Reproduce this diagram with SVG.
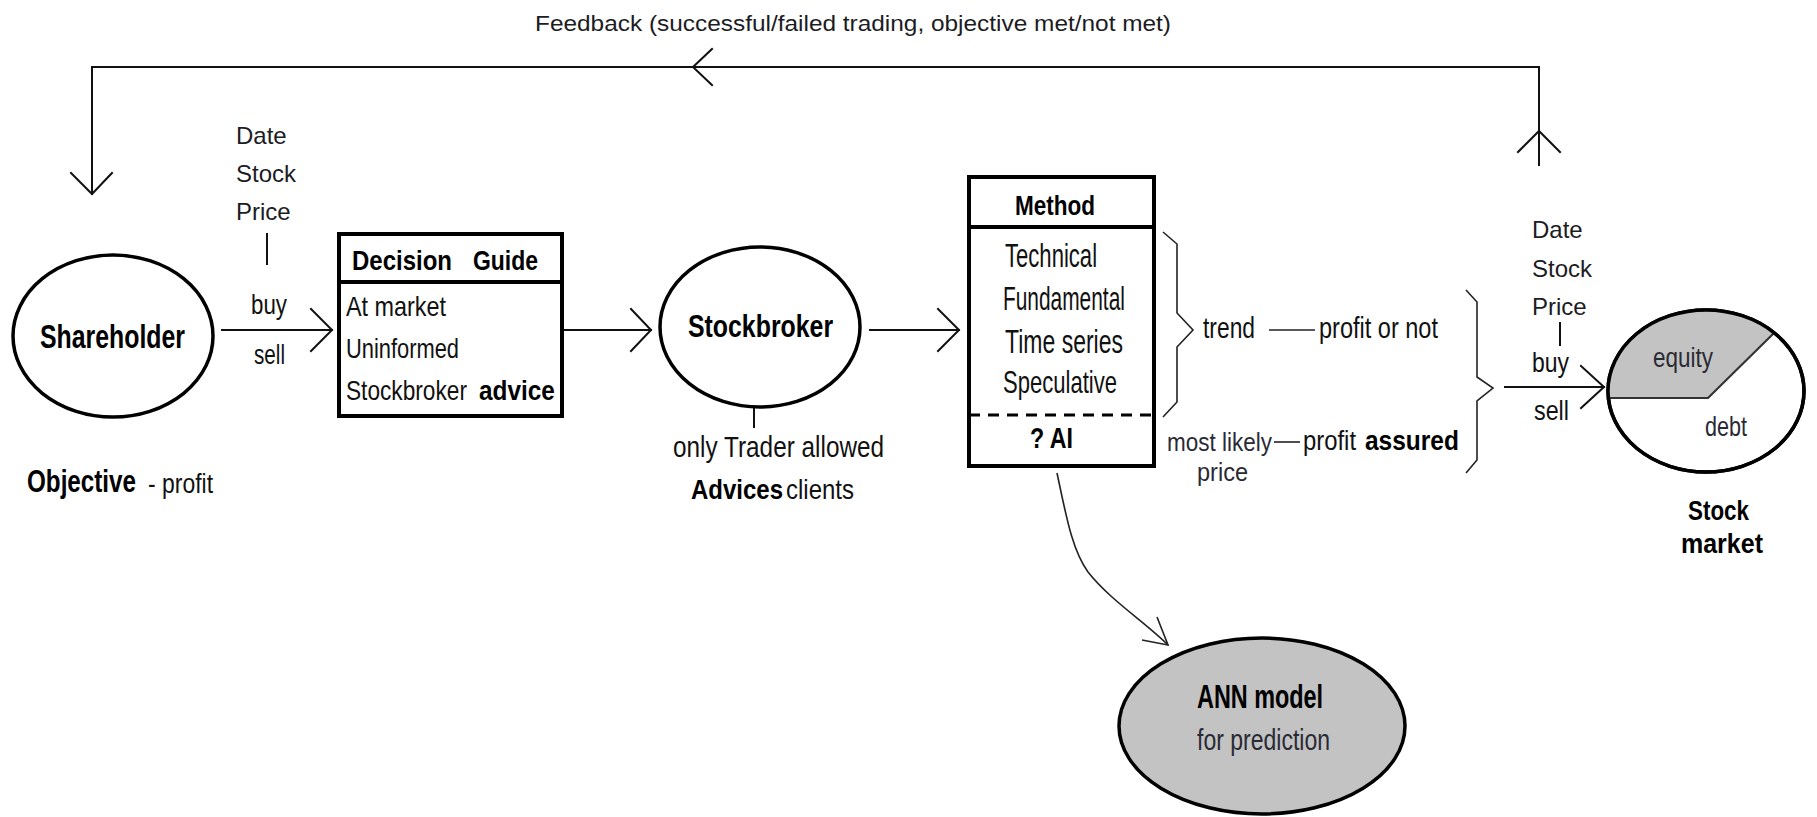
<svg xmlns="http://www.w3.org/2000/svg" width="1817" height="817" viewBox="0 0 1817 817">
  <style>
    .ln { fill: none; stroke: #111; stroke-width: 2; stroke-linecap: square; }
    .thin { fill: none; stroke: #222; stroke-width: 1.6; }
    .node { fill: #fff; stroke: #000; stroke-width: 3.5; }
    .grey { fill: #c3c3c3; stroke: #000; stroke-width: 3.5; }
    .box { fill: #fff; stroke: #000; stroke-width: 4; }
    .sep { stroke: #000; stroke-width: 4; }
    .dash { stroke: #000; stroke-width: 3; stroke-dasharray: 11 8; }
    .arial { font-family: "Liberation Sans", Arial, sans-serif; fill: #1c1c24; }
    .nr { font-family: "Liberation Sans", Arial, sans-serif; fill: #111; }
    .nb { font-family: "Liberation Sans", Arial, sans-serif; font-weight: bold; fill: #000; }
    .soft { fill: #2a2a35; }
  </style>

  <!-- connectors -->
  <g id="connectors">
    <!-- feedback loop from the stock market back to the shareholder -->
    <polyline class="ln" points="1539,165 1539,67 92,67 92,194"/>
    <polyline class="ln" points="712,49 693,67 712,85"/>
    <polyline class="ln" points="71,173 92,194 112,173"/>
    <polyline class="ln" points="1518,152 1539,131 1560,152"/>

    <!-- shareholder -> decision guide -->
    <line class="ln" x1="222" y1="330" x2="332" y2="330"/>
    <polyline class="ln" points="311,309 332,330 311,351"/>
    <line class="ln" x1="267" y1="234" x2="267" y2="264"/>

    <!-- decision guide -> stockbroker -->
    <line class="ln" x1="565" y1="330" x2="651" y2="330"/>
    <polyline class="ln" points="631,309 651,330 631,351"/>
    <line class="ln" x1="754" y1="407" x2="754" y2="427"/>

    <!-- stockbroker -> method -->
    <line class="ln" x1="870" y1="330" x2="959" y2="330"/>
    <polyline class="ln" points="938,309 959,330 938,351"/>

    <!-- method braces -->
    <polyline class="thin" points="1163,232 1177,244 1177,313 1193,330 1177,347 1177,402 1163,417"/>
    <line class="thin" x1="1269" y1="330" x2="1315" y2="330"/>
    <line class="thin" x1="1274" y1="442" x2="1300" y2="442"/>
    <polyline class="thin" points="1466,290 1477,302 1477,377 1493,388 1477,401 1477,460 1466,473"/>

    <!-- trades -> stock market -->
    <line class="ln" x1="1505" y1="387" x2="1604" y2="387"/>
    <polyline class="ln" points="1581,366 1604,387 1581,408"/>
    <line class="ln" x1="1560" y1="323" x2="1560" y2="345"/>

    <!-- method -> ANN model -->
    <path class="thin" d="M1057,473 C1066,515 1072,550 1088,572 C1110,600 1145,622 1168,645"/>
    <polyline class="thin" points="1157,617 1168,645 1142,640"/>
  </g>

  <!-- feedback label -->
  <g id="feedback-label">
    <text class="arial" x="535" y="31" font-size="22" textLength="636" lengthAdjust="spacingAndGlyphs">Feedback (successful/failed trading, objective met/not met)</text>
  </g>

  <!-- shareholder -->
  <g id="shareholder">
    <ellipse class="node" cx="113" cy="336" rx="100" ry="81"/>
    <text class="nb" transform="translate(40,348) scale(0.753,1)" font-size="33" textLength="192.6" lengthAdjust="spacingAndGlyphs">Shareholder</text>
    <text class="nb" transform="translate(27,492) scale(0.781,1)" font-size="31" textLength="139.6" lengthAdjust="spacingAndGlyphs">Objective</text>
    <text class="nr" transform="translate(148,493) scale(0.819,1)" font-size="28" textLength="79.4" lengthAdjust="spacingAndGlyphs">- profit</text>
  </g>

  <!-- order details (left) -->
  <g id="order-left">
    <text class="arial" x="236" y="144" font-size="24">Date</text>
    <text class="arial" x="236" y="182" font-size="24">Stock</text>
    <text class="arial" x="236" y="220" font-size="24">Price</text>
    <text class="nr" transform="translate(251,314) scale(0.798,1)" font-size="28" textLength="45.1" lengthAdjust="spacingAndGlyphs">buy</text>
    <text class="nr" transform="translate(254,364) scale(0.738,1)" font-size="28" textLength="42" lengthAdjust="spacingAndGlyphs">sell</text>
  </g>

  <!-- decision guide -->
  <g id="decision-guide">
    <rect class="box" x="339" y="234" width="223" height="182"/>
    <line class="sep" x1="339" y1="282" x2="562" y2="282"/>
    <text class="nb" transform="translate(352,270) scale(0.857,1)" font-size="28" textLength="116.7" lengthAdjust="spacingAndGlyphs">Decision</text>
    <text class="nb" transform="translate(473,270) scale(0.819,1)" font-size="28" textLength="79.4" lengthAdjust="spacingAndGlyphs">Guide</text>
    <text class="nr" transform="translate(346,316) scale(0.806,1)" font-size="28" textLength="124.1" lengthAdjust="spacingAndGlyphs">At market</text>
    <text class="nr" transform="translate(346,358) scale(0.754,1)" font-size="28" textLength="149.9" lengthAdjust="spacingAndGlyphs">Uninformed</text>
    <text class="nr" transform="translate(346,400) scale(0.782,1)" font-size="28" textLength="154.7" lengthAdjust="spacingAndGlyphs">Stockbroker</text>
    <text class="nb" transform="translate(479,400) scale(0.853,1)" font-size="28" textLength="88.8" lengthAdjust="spacingAndGlyphs">advice</text>
  </g>

  <!-- stockbroker -->
  <g id="stockbroker">
    <ellipse class="node" cx="760" cy="327" rx="100" ry="80"/>
    <text class="nb" transform="translate(688,337) scale(0.802,1)" font-size="31" textLength="180.9" lengthAdjust="spacingAndGlyphs">Stockbroker</text>
    <text class="nr" transform="translate(673,457) scale(0.855,1)" font-size="29" textLength="246.9" lengthAdjust="spacingAndGlyphs">only Trader allowed</text>
    <text class="nb" transform="translate(691,499) scale(0.889,1)" font-size="27" textLength="103.5" lengthAdjust="spacingAndGlyphs">Advices</text>
    <text class="nr" transform="translate(786,499) scale(0.889,1)" font-size="27" textLength="76.5" lengthAdjust="spacingAndGlyphs">clients</text>
  </g>

  <!-- method -->
  <g id="method">
    <rect class="box" x="969" y="177" width="185" height="289"/>
    <line class="sep" x1="969" y1="227" x2="1154" y2="227"/>
    <line class="dash" x1="969" y1="415" x2="1154" y2="415"/>
    <text class="nb" transform="translate(1015,215) scale(0.804,1)" font-size="28" textLength="99.5" lengthAdjust="spacingAndGlyphs">Method</text>
    <text class="nr" transform="translate(1005,267) scale(0.652,1)" font-size="33" textLength="141.2" lengthAdjust="spacingAndGlyphs">Technical</text>
    <text class="nr" transform="translate(1003,310) scale(0.633,1)" font-size="33" textLength="192.6" lengthAdjust="spacingAndGlyphs">Fundamental</text>
    <text class="nr" transform="translate(1005,353) scale(0.692,1)" font-size="33" textLength="170.5" lengthAdjust="spacingAndGlyphs">Time series</text>
    <text class="nr" transform="translate(1003,393) scale(0.668,1)" font-size="32" textLength="170.6" lengthAdjust="spacingAndGlyphs">Speculative</text>
    <text class="nb" transform="translate(1030,448) scale(0.734,1)" font-size="30" textLength="58.6" lengthAdjust="spacingAndGlyphs">? AI</text>
  </g>

  <!-- outcomes -->
  <g id="outcomes">
    <text class="nr" transform="translate(1203,338) scale(0.787,1)" font-size="29" textLength="66.1" lengthAdjust="spacingAndGlyphs">trend</text>
    <text class="nr" transform="translate(1319,338) scale(0.811,1)" font-size="29" textLength="146.7" lengthAdjust="spacingAndGlyphs">profit or not</text>
    <text class="nr soft" transform="translate(1167,451) scale(0.799,1)" font-size="26" textLength="131.4" lengthAdjust="spacingAndGlyphs">most likely</text>
    <text class="nr soft" transform="translate(1197,481) scale(0.872,1)" font-size="26" textLength="58.5" lengthAdjust="spacingAndGlyphs">price</text>
    <text class="nr" transform="translate(1303,450) scale(0.822,1)" font-size="28" textLength="64.5" lengthAdjust="spacingAndGlyphs">profit</text>
    <text class="nb" transform="translate(1365,450) scale(0.845,1)" font-size="28" textLength="111.2" lengthAdjust="spacingAndGlyphs">assured</text>
  </g>

  <!-- order details (right) -->
  <g id="order-right">
    <text class="arial" x="1532" y="238" font-size="24">Date</text>
    <text class="arial" x="1532" y="277" font-size="24">Stock</text>
    <text class="arial" x="1532" y="315" font-size="24">Price</text>
    <text class="nr" transform="translate(1532,372) scale(0.82,1)" font-size="28" textLength="45.1" lengthAdjust="spacingAndGlyphs">buy</text>
    <text class="nr" transform="translate(1534,420) scale(0.833,1)" font-size="28" textLength="42" lengthAdjust="spacingAndGlyphs">sell</text>
  </g>

  <!-- stock market -->
  <g id="stock-market">
    <ellipse class="node" cx="1706" cy="391" rx="98" ry="81"/>
    <path d="M1609,398 L1708,398 L1774,333 A98,81 0 0 0 1609,398 Z" fill="#c3c3c3" stroke="none"/>
    <polyline points="1609,398 1708,398 1774,333" fill="none" stroke="#333" stroke-width="2.2"/>
    <ellipse cx="1706" cy="391" rx="98" ry="81" fill="none" stroke="#000" stroke-width="3.5"/>
    <text class="nr soft" transform="translate(1653,367) scale(0.803,1)" font-size="28" textLength="74.7" lengthAdjust="spacingAndGlyphs">equity</text>
    <text class="nr soft" transform="translate(1705,436) scale(0.771,1)" font-size="28" textLength="54.5" lengthAdjust="spacingAndGlyphs">debt</text>
    <text class="nb" transform="translate(1688,520) scale(0.8,1)" font-size="28" textLength="76.2" lengthAdjust="spacingAndGlyphs">Stock</text>
    <text class="nb" transform="translate(1681,553) scale(0.893,1)" font-size="28" textLength="91.8" lengthAdjust="spacingAndGlyphs">market</text>
  </g>

  <!-- ANN model -->
  <g id="ann-model">
    <ellipse class="grey" cx="1262" cy="726" rx="143" ry="88"/>
    <text class="nb" transform="translate(1197,708) scale(0.709,1)" font-size="33" textLength="177.8" lengthAdjust="spacingAndGlyphs">ANN model</text>
    <text class="nr soft" transform="translate(1197,750) scale(0.767,1)" font-size="30" textLength="173.4" lengthAdjust="spacingAndGlyphs">for prediction</text>
  </g>
</svg>
